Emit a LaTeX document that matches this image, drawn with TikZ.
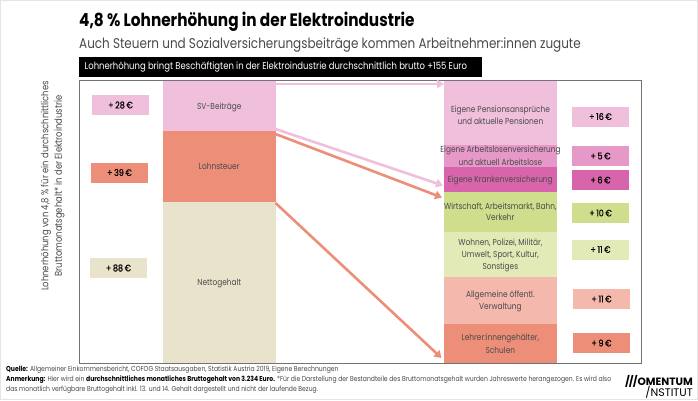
\documentclass[tikz,border=0pt]{standalone}
\usepackage{fontspec}
\setmainfont[FakeStretch=0.85]{Poppins}
\newfontfamily\logofont{Poppins}
\usetikzlibrary{arrows.meta}
\definecolor{txt}{HTML}{4A4A4A}
\definecolor{cpink}{HTML}{EFBFDC}
\definecolor{csalmon}{HTML}{EC8E78}
\definecolor{ccream}{HTML}{E9E3CC}
\definecolor{cmid}{HTML}{E699C8}
\definecolor{cmag}{HTML}{D865AC}
\definecolor{cgreen}{HTML}{CFDE8C}
\definecolor{clgreen}{HTML}{E2EBB8}
\definecolor{clsalmon}{HTML}{F4B8AC}
\newcommand{\fs}[1]{\fontsize{#1}{#1}\selectfont}
\newcommand{\bloc}[7]{\node[blockn,fill=#5,minimum width=#3-#1,minimum height=#4-#2,align=center] (#6) at ({(#1+#3)/2},{(#2+#4)/2}) {#7};}
\newcommand{\valbox}[7]{\node[valn,fill=#5] (#6) at ({(#1+#3)/2},{(#2+#4)/2}) {#7};}
\tikzset{x=1pt,y=-1pt,
 blockn/.style={inner sep=0pt,outer sep=0pt,text=txt,font=\fs{8.7},text depth=0pt},
 valn/.style={inner sep=0pt,outer sep=0pt,minimum width=57pt,minimum height=20pt,text=black,font=\addfontfeature{FakeBold=0.4}\fs{9.4}},
 flow/.style={line width=2.6pt,-{Triangle[length=7pt,width=8.5pt]}},
 leftl/.style={rotate=90,text=txt,font=\fs{9.9},inner sep=0pt},
 foot/.style={anchor=west,inner sep=0pt,text=txt,font=\fs{7.15}}}
\begin{document}
\begin{tikzpicture}
\useasboundingbox (0,0) rectangle (698,400);
\fill[white] (0,0) rectangle (698,400);
\draw[black!10,line width=1pt] (0.5,0.5) rectangle (697.5,399.5);
\node[anchor=west,inner sep=0pt,font=\fs{18}\bfseries,text=black] (title) at (79,22) {4,8 \% Lohnerhöhung in der Elektroindustrie};
\node[anchor=west,inner sep=0pt,font=\fs{14.1},text=txt] (sub) at (79,45) {Auch Steuern und Sozialversicherungsbeiträge kommen Arbeitnehmer:innen zugute};
\node[anchor=west,fill=black,minimum width=403pt,minimum height=20.5pt,inner sep=0pt] (bar) at (79,67) {};
\node[anchor=west,inner sep=0pt,text=white,font=\fs{9.95}] (bartext) at (84.5,67) {Lohnerhöhung bringt Beschäftigten in der Elektroindustrie durchschnittlich brutto +155 Euro};
\node[draw=black!55,line width=0.7pt,minimum width=562pt,minimum height=283pt,inner sep=0pt,anchor=north west] (frame) at (78.7,80) {};
\bloc{163}{81}{275.5}{131}{cpink}{sv}{SV-Beiträge}
\bloc{163}{131}{275.5}{202}{csalmon}{lst}{Lohnsteuer}
\bloc{163}{202}{275.5}{363}{ccream}{netto}{Nettogehalt}
\bloc{444}{81}{556.7}{145}{cpink}{pens}{}
\bloc{444}{145}{556.7}{166.7}{cmid}{alv}{}
\bloc{444}{166.7}{556.7}{192}{cmag}{kv}{Eigene Krankenversicherung}
\bloc{444}{192}{556.7}{232}{cgreen}{wirt}{Wirtschaft, Arbeitsmarkt, Bahn,\\[2.6pt]Verkehr}
\bloc{444}{232}{556.7}{276.7}{clgreen}{wohn}{Wohnen, Polizei, Militär,\\[2.6pt]Umwelt, Sport, Kultur,\\[2.6pt]Sonstiges}
\bloc{444}{276.7}{556.7}{324}{clsalmon}{allg}{Allgemeine öffentl.\\[2.6pt]Verwaltung}
\bloc{444}{324}{556.7}{363}{csalmon}{lehr}{Lehrer:innengehälter,\\[2.6pt]Schulen}
\node[blockn,align=center] (penst) at (500.5,115) {Eigene Pensionsansprüche\\[2.6pt]und aktuelle Pensionen};
\node[blockn,align=center] (alvt) at (500.5,155.5) {Eigene Arbeitslosenversicherung\\[2.6pt]und aktuell Arbeitslose};
\valbox{92}{95}{149}{115}{cpink}{v1}{+\,28\,€}
\valbox{91}{162.5}{148}{182.5}{csalmon}{v2}{+\,39\,€}
\valbox{90}{258}{147}{278}{ccream}{v3}{+\,88\,€}
\valbox{572}{106.5}{629}{126.5}{cpink}{r1}{+\,16\,€}
\valbox{572}{146}{629}{166}{cmid}{r2}{+\,5\,€}
\valbox{572}{170}{629}{190}{cmag}{r3}{+\,6\,€}
\valbox{572}{203}{629}{223}{cgreen}{r4}{+\,10\,€}
\valbox{572}{239.5}{629}{259.5}{clgreen}{r5}{+\,11\,€}
\valbox{573}{289}{630}{309}{clsalmon}{r6}{+\,11\,€}
\valbox{573}{333}{630}{353}{csalmon}{r7}{+\,9\,€}
\coordinate (a1) at (275.5,84);
\coordinate (b1) at (444,84);
\coordinate (a2) at (275.5,129);
\coordinate (b2) at (443,185.5);
\coordinate (a3) at (275.5,134);
\coordinate (b3) at (442,197.5);
\coordinate (a4) at (275.5,203);
\coordinate (b4) at (441.5,358);
\draw[flow,cpink] (a1) -- (b1);
\draw[flow,cpink] (a2) -- (b2);
\draw[flow,csalmon] (a3) -- (b3);
\draw[flow,csalmon] (a4) -- (b4);
\node[leftl] (l1) at (46,186) {Lohnerhöhung von 4,8 \% für ein durchschnittliches};
\node[leftl] (l2) at (59.5,186) {Bruttomonatsgehalt* in der Elektroindustrie};
\node[foot] (f1) at (6,370) {\textbf{\textcolor{black}{Quelle:}} Allgemeiner Einkommensbericht, COFOG Staatsausgaben, Statistik Austria 2019, Eigene Berechnungen};
\node[foot] (f2) at (6,380) {\textbf{\textcolor{black}{Anmerkung:}} Hier wird ein \textbf{\textcolor{black}{durchschnittliches monatliches Bruttogehalt von 3.234 Euro.}} *Für die Darstellung der Bestandteile des Bruttomonatsgehalt wurden Jahreswerte herangezogen. Es wird also};
\node[foot] (f3) at (6,390) {das monatlich verfügbare Bruttogehalt inkl. 13. und 14. Gehalt dargestellt und nicht der laufende Bezug.};
\node[anchor=east,inner sep=0pt,font=\logofont\fs{10.6}\bfseries,text=black] (logo1) at (693,381) {/\kern-1pt/\kern-1pt/OMENTUM};
\node[anchor=east,inner sep=0pt,font=\logofont\fs{11},text=black] (logo2) at (693,392) {/NSTITUT};
\end{tikzpicture}
\end{document}
